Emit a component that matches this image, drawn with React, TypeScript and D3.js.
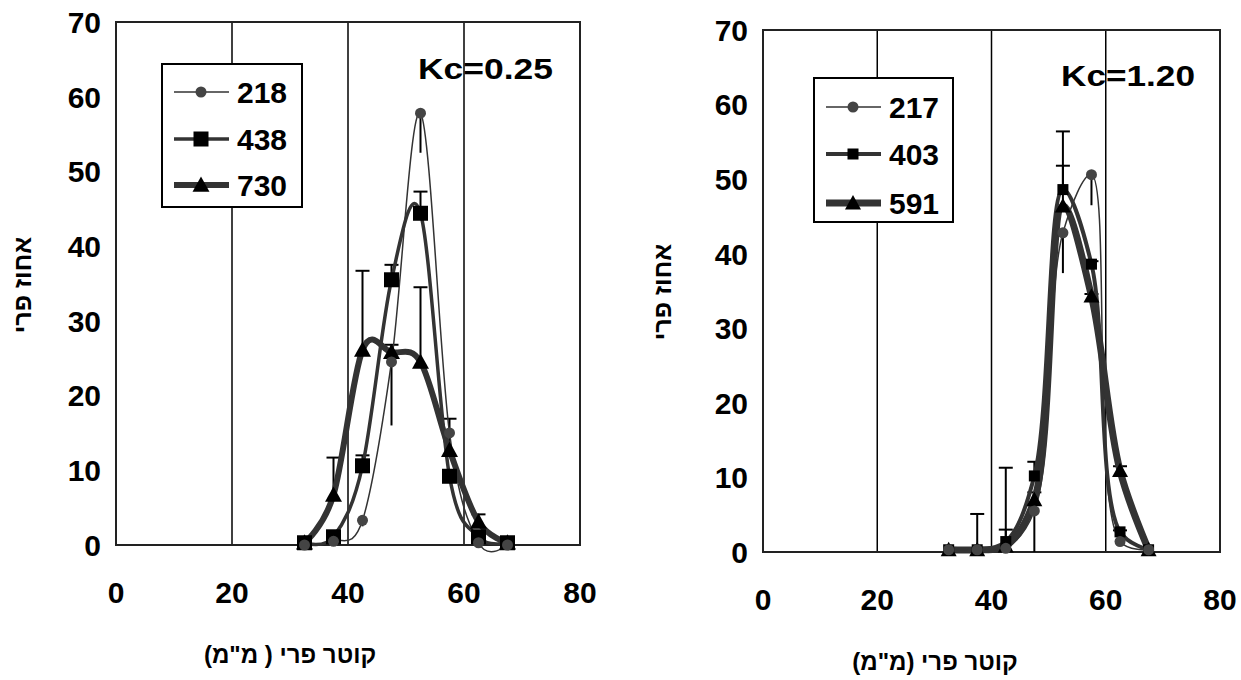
import React, { useEffect, useRef } from "react";
import * as d3 from "d3";

// fruit diameter classes (mm)
const diameters = [32.5, 37.5, 42.5, 47.5, 52.5, 57.5, 62.5, 67.5];
const xTicks = [0, 20, 40, 60, 80];
const yTicks = [0, 10, 20, 30, 40, 50, 60, 70];
const gridX = [20, 40, 60];

// Kc = 0.25
const left218 = [0, 0.5, 3.3, 24.5, 57.8, 15.0, 0.3, 0];
const left218Err = [0, 0, 0.8, 8.5, 5.3, 0, 0, 0];
const left438 = [0.3, 1.1, 10.6, 35.5, 44.4, 9.2, 1.1, 0.3];
const left438Err = [0, 0, 1.4, 2.0, 2.9, 0, 0, 0];
const left730 = [0.3, 6.7, 26.1, 25.8, 24.5, 12.7, 3.1, 0.3];
const left730Err = [0, 5.0, 10.6, 1.0, 10.0, 4.2, 1.0, 0];

// Kc = 1.20
const right217 = [0.3, 0.3, 0.5, 5.5, 42.8, 50.6, 1.4, 0.3];
const right217Err = [0, 0, 0, 5.5, 5.4, 4.1, 0, 0];
const right403 = [0.3, 0.3, 1.4, 10.2, 48.6, 38.6, 2.7, 0.3];
const right403Err = [0, 4.8, 9.9, 1.9, 7.8, 0.4, 0.2, 0];
const right591 = [0.3, 0.3, 0.8, 7.0, 46.4, 34.3, 10.9, 0.3];
const right591Err = [0, 0, 2.2, 1.0, 5.4, 0.3, 0.6, 0];

const FONT = "'Liberation Sans', Arial, sans-serif";

const panels = [
    {
        x0: 116, x1: 580, yTop: 22, yBot: 545,
        kc: "Kc=0.25", kcX: 418, kcY: 79, kcLen: 135,
        xTitle: "קוטר פרי ( מ\"מ)", xTitleX: 290, xTitleY: 663,
        yTitleX: 22, yTitleY: 285,
        curveAlpha: 0,
        legend: { x: 162, y: 64, w: 140, h: 143, rows: [92, 139, 185] },
        markSize: { sq: 15, tri: 17, circ: 5.5 },
        series: [
            { name: "218", values: left218, err: left218Err, dir: -1, width: 1.5, marker: "circle" },
            { name: "438", values: left438, err: left438Err, dir: 1, width: 3.5, marker: "square" },
            { name: "730", values: left730, err: left730Err, dir: 1, width: 6, marker: "triangle" },
        ],
    },
    {
        x0: 763, x1: 1220, yTop: 30, yBot: 552,
        kc: "Kc=1.20", kcX: 1061, kcY: 86, kcLen: 134,
        xTitle: "קוטר פרי (מ\"מ)", xTitleX: 935, xTitleY: 670,
        yTitleX: 662, yTitleY: 292,
        curveAlpha: 0.5,
        legend: { x: 814, y: 78, w: 139, h: 144, rows: [107, 154, 203] },
        markSize: { sq: 11, tri: 16, circ: 5.5 },
        series: [
            { name: "217", values: right217, err: right217Err, dir: -1, width: 1.5, marker: "circle" },
            { name: "403", values: right403, err: right403Err, dir: 1, width: 4, marker: "square" },
            { name: "591", values: right591, err: right591Err, dir: 1, width: 7, marker: "triangle" },
        ],
    },
];

const drawMarker = (g, type, cx, cy, size) => {
    if (type === "circle") {
        g.append("circle").attr("cx", cx).attr("cy", cy).attr("r", size.circ).attr("fill", "#444");
    } else if (type === "square") {
        g.append("rect")
            .attr("x", cx - size.sq / 2).attr("y", cy - size.sq / 2)
            .attr("width", size.sq).attr("height", size.sq).attr("fill", "#000");
    } else {
        const s = size.tri;
        g.append("path")
            .attr("d", `M${cx},${cy - s * 0.5}L${cx + s / 2},${cy + s * 0.4}L${cx - s / 2},${cy + s * 0.4}Z`)
            .attr("fill", "#000");
    }
};

const App = () => {
    const svgRef = useRef(null);

    useEffect(() => {
        const svg = d3.select(svgRef.current);
        svg.selectAll("*").remove();

        panels.forEach((p) => {
            const x = d3.scaleLinear().domain([0, 80]).range([p.x0, p.x1]);
            const y = d3.scaleLinear().domain([0, 70]).range([p.yBot, p.yTop]);
            const g = svg.append("g");

            // grid lines
            g.selectAll(".grid")
                .data(gridX)
                .enter()
                .append("line")
                .attr("x1", (d) => x(d)).attr("x2", (d) => x(d))
                .attr("y1", p.yTop).attr("y2", p.yBot)
                .attr("stroke", "#000").attr("stroke-width", 1.5);

            // frame
            g.append("rect")
                .attr("x", p.x0).attr("y", p.yTop)
                .attr("width", p.x1 - p.x0).attr("height", p.yBot - p.yTop)
                .attr("fill", "none").attr("stroke", "#222").attr("stroke-width", 2);

            // tick labels
            g.selectAll(".ytick")
                .data(yTicks)
                .enter()
                .append("text")
                .attr("x", p.x0 - 15)
                .attr("y", (d) => y(d))
                .attr("dy", "0.36em")
                .attr("text-anchor", "end")
                .attr("font-family", FONT).attr("font-weight", "bold").attr("font-size", 30)
                .text((d) => d);

            g.selectAll(".xtick")
                .data(xTicks)
                .enter()
                .append("text")
                .attr("x", (d) => x(d))
                .attr("y", p.yBot + 58)
                .attr("text-anchor", "middle")
                .attr("font-family", FONT).attr("font-weight", "bold").attr("font-size", 30)
                .text((d) => d);

            // axis titles
            g.append("text")
                .attr("x", p.xTitleX).attr("y", p.xTitleY)
                .attr("text-anchor", "middle").attr("direction", "rtl")
                .attr("font-family", FONT).attr("font-weight", "bold").attr("font-size", 24)
                .text(p.xTitle);

            g.append("text")
                .attr("transform", `translate(${p.yTitleX},${p.yTitleY}) rotate(-90)`)
                .attr("text-anchor", "middle").attr("dy", "0.36em").attr("direction", "rtl")
                .attr("font-family", FONT).attr("font-weight", "bold").attr("font-size", 25)
                .text("אחוז פרי");

            g.append("text")
                .attr("x", p.kcX).attr("y", p.kcY)
                .attr("textLength", p.kcLen).attr("lengthAdjust", "spacingAndGlyphs")
                .attr("font-family", FONT).attr("font-weight", "bold").attr("font-size", 30)
                .text(p.kc);

            // error bars
            p.series.forEach((s) => {
                s.values.forEach((v, i) => {
                    const e = s.err[i];
                    if (!e) return;
                    const cx = x(diameters[i]);
                    const yEnd = y(v + s.dir * e);
                    g.append("line")
                        .attr("x1", cx).attr("x2", cx).attr("y1", y(v)).attr("y2", yEnd)
                        .attr("stroke", "#000").attr("stroke-width", 2);
                    if (s.dir > 0) {
                        g.append("line")
                            .attr("x1", cx - 7).attr("x2", cx + 7).attr("y1", yEnd).attr("y2", yEnd)
                            .attr("stroke", "#000").attr("stroke-width", 2);
                    }
                });
            });

            // smoothed lines
            const line = d3.line()
                .x((d, i) => x(diameters[i]))
                .y((d) => y(d))
                .curve(d3.curveCatmullRom.alpha(p.curveAlpha));

            p.series.slice().reverse().forEach((s) => {
                g.append("path")
                    .attr("d", line(s.values))
                    .attr("fill", "none")
                    .attr("stroke", "#333")
                    .attr("stroke-width", s.width)
                    .attr("stroke-linejoin", "round");
            });

            p.series.slice().reverse().forEach((s) => {
                s.values.forEach((v, i) => drawMarker(g, s.marker, x(diameters[i]), y(v), p.markSize));
            });

            // legend
            const L = p.legend;
            g.append("rect")
                .attr("x", L.x).attr("y", L.y).attr("width", L.w).attr("height", L.h)
                .attr("fill", "#fff").attr("stroke", "#000").attr("stroke-width", 2);
            p.series.forEach((s, k) => {
                const ry = L.rows[k];
                g.append("line")
                    .attr("x1", L.x + 12).attr("x2", L.x + 67).attr("y1", ry).attr("y2", ry)
                    .attr("stroke", "#333").attr("stroke-width", s.width);
                drawMarker(g, s.marker, L.x + 39, ry, p.markSize);
                g.append("text")
                    .attr("x", L.x + 75).attr("y", ry).attr("dy", "0.36em")
                    .attr("font-family", FONT).attr("font-weight", "bold").attr("font-size", 30)
                    .text(s.name);
            });
        });
    }, []);

    return (
        <div style={{ position: "absolute", left: 0, top: 0 }}>
            <svg ref={svgRef} width={1241} height={680} style={{ display: "block", background: "#fff" }}></svg>
        </div>
    );
};

export default App;
